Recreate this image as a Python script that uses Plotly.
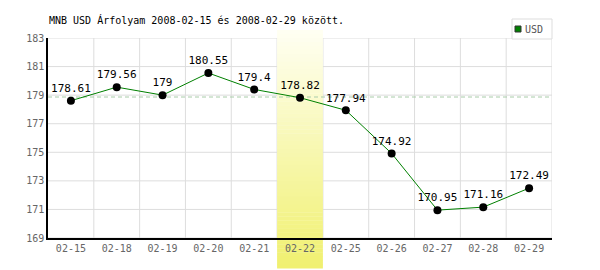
import plotly.graph_objects as go

dates = ["02-15", "02-18", "02-19", "02-20", "02-21", "02-22", "02-25", "02-26", "02-27", "02-28", "02-29"]
usd = [178.61, 179.56, 179.0, 180.55, 179.4, 178.82, 177.94, 174.92, 170.95, 171.16, 172.49]
labels = ["178.61", "179.56", "179", "180.55", "179.4", "178.82", "177.94", "174.92", "170.95", "171.16", "172.49"]
ref_level = 178.87
highlight = "02-22"
y_ticks = [169, 171, 173, 175, 177, 179, 181, 183]
title = "MNB USD Árfolyam 2008-02-15 és 2008-02-29 között."

xs = list(range(len(dates)))
hi = dates.index(highlight)
GRID = "#dddddd"

fig = go.Figure()
fig.add_trace(go.Scatter(
    x=xs, y=usd, mode="lines+markers+text", name="USD",
    line=dict(color="#008000", width=1),
    marker=dict(color="#000000", size=8),
    text=labels, textposition="top center",
    textfont=dict(family="DejaVu Sans Mono", size=11, color="#000000"),
    cliponaxis=False, showlegend=False,
))

shapes = []
# grid lines (drawn beneath the highlight band)
for yv in y_ticks:
    shapes.append(dict(type="line", xref="paper", yref="y", x0=0, x1=1, y0=yv, y1=yv,
                       line=dict(color=GRID, width=1), layer="between"))
for i in xs:
    shapes.append(dict(type="line", xref="x", yref="paper", x0=i + 0.5, x1=i + 0.5, y0=0, y1=1,
                       line=dict(color=GRID, width=1), layer="between"))
# gradient highlight band
n = 60
y_top, y_bot = 1.04, -0.15
c_top = (255, 255, 242)
c_bot = (240, 240, 112)
for i in range(n):
    t = i / (n - 1)
    col = tuple(round(c_top[k] + (c_bot[k] - c_top[k]) * t) for k in range(3))
    y1 = y_top - (y_top - y_bot) * i / n
    y0 = y_top - (y_top - y_bot) * (i + 1) / n - 0.002
    shapes.append(dict(type="rect", xref="x", yref="paper", x0=hi - 0.5, x1=hi + 0.5,
                       y0=y0, y1=y1, fillcolor="rgb(%d,%d,%d)" % col, line=dict(width=0),
                       layer="between"))
# reference dashed line
shapes.append(dict(type="line", xref="paper", yref="y", x0=0, x1=1, y0=ref_level, y1=ref_level,
                   line=dict(color="#a8cca8", width=1, dash="4px,3px"), layer="between"))
# legend box
shapes.append(dict(type="rect", xref="paper", yref="paper", x0=464/504, x1=1.0,
                   y0=(238-39)/200, y1=(238-19)/200, fillcolor="white",
                   line=dict(color=GRID, width=1)))
shapes.append(dict(type="rect", xref="paper", yref="paper", x0=467/504, x1=473/504,
                   y0=(238-32)/200, y1=(238-26)/200, fillcolor="#008000",
                   line=dict(color="#333333", width=1)))

fig.update_layout(
    width=600, height=270,
    margin=dict(l=48, r=48, t=38, b=32),
    paper_bgcolor="white", plot_bgcolor="white",
    shapes=shapes,
    showlegend=False,
    annotations=[
        dict(text=title, xref="paper", yref="paper", x=-1/504, y=(238-20)/200,
             xanchor="left", yanchor="middle", showarrow=False,
             font=dict(family="DejaVu Sans Mono", size=10, color="#000000")),
        dict(text="USD", xref="paper", yref="paper", x=475/504, y=(238-29)/200,
             xanchor="left", yanchor="middle", showarrow=False,
             font=dict(family="DejaVu Sans Mono", size=10, color="#555555")),
    ],
    xaxis=dict(
        range=[-0.5, len(dates) - 0.5], tickvals=xs, ticktext=dates,
        showgrid=False, zeroline=False,
        showline=True, linecolor="#000000", linewidth=1.5,
        ticks="", tickfont=dict(family="DejaVu Sans Mono", size=10, color="#666666"),
    ),
    yaxis=dict(
        range=[169, 183], tickvals=y_ticks,
        showgrid=False, zeroline=False,
        showline=True, linecolor="#000000", linewidth=1.5,
        ticks="", tickfont=dict(family="DejaVu Sans Mono", size=10, color="#666666"),
    ),
)

fig.write_html("out.html")
